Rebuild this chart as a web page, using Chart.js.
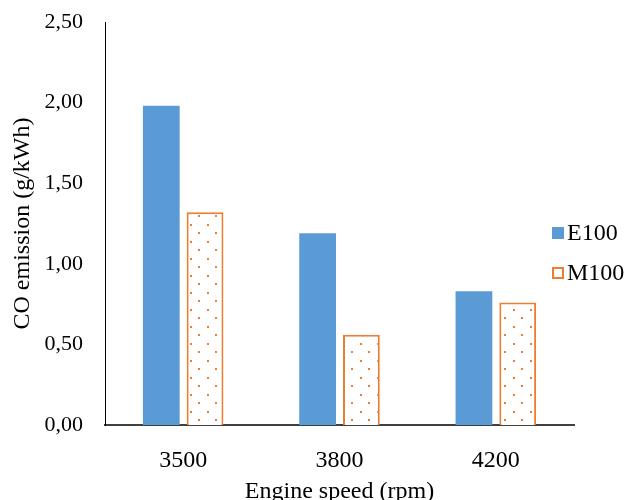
<!DOCTYPE html>
<html>
<head>
<meta charset="utf-8">
<script src="https://cdn.jsdelivr.net/npm/chart.js@4"></script>
<style>
  html, body { margin: 0; padding: 0; background: #fff; }
  #wrap { width: 628px; height: 500px; }
</style>
</head>
<body>
<div id="wrap"><canvas id="coChart"></canvas></div>
<script>
  const speeds = ["3500", "3800", "4200"];
  const e100 = [1.98, 1.19, 0.83];
  const m100 = [1.32, 0.56, 0.76];
  const yTicks = [0, 0.5, 1, 1.5, 2, 2.5];

  const FONT = "'Liberation Serif', 'Times New Roman', serif";
  const BLUE = "#5B9BD5";
  const ORANGE = "#ED7D31";

  // dotted fill for the M100 bars
  function dotPattern() {
    const c = document.createElement("canvas");
    c.width = 17;
    c.height = 17;
    const g = c.getContext("2d");
    g.fillStyle = "#fff";
    g.fillRect(0, 0, 17, 17);
    g.fillStyle = ORANGE;
    g.fillRect(3, 3, 2, 2);
    g.fillRect(11, 11, 2, 2);
    return g.createPattern(c, "repeat");
  }

  // legend drawn at the right side, over the plot area
  const sideLegend = {
    id: "sideLegend",
    afterDraw(chart) {
      const ctx = chart.ctx;
      const x = 552;
      const rows = [233, 273];
      ctx.save();
      chart.data.datasets.forEach((ds, i) => {
        const cy = rows[i];
        if (i === 0) {
          ctx.fillStyle = ds.borderColor;
          ctx.fillRect(x, cy - 6, 12, 12);
        } else {
          ctx.fillStyle = "#fff";
          ctx.fillRect(x, cy - 6, 12, 12);
          ctx.strokeStyle = ds.borderColor;
          ctx.lineWidth = 2;
          ctx.strokeRect(x + 1, cy - 5, 10, 10);
        }
        ctx.fillStyle = "#000";
        ctx.font = "24px " + FONT;
        ctx.textBaseline = "middle";
        ctx.textAlign = "left";
        ctx.fillText(ds.label, x + 15, cy + 1);
      });
      ctx.restore();
    },
  };

  new Chart(document.getElementById("coChart"), {
    type: "bar",
    data: {
      labels: speeds,
      datasets: [
        {
          label: "E100",
          data: e100,
          backgroundColor: BLUE,
          borderColor: BLUE,
          borderWidth: 0,
        },
        {
          label: "M100",
          data: m100,
          backgroundColor: dotPattern(),
          borderColor: ORANGE,
          borderWidth: 2,
        },
      ],
    },
    options: {
      responsive: true,
      maintainAspectRatio: false,
      animation: false,
      layout: { padding: { left: 0, right: 54, top: 22, bottom: 0 } },
      datasets: {
        bar: { categoryPercentage: 0.56, barPercentage: 0.84 },
      },
      plugins: {
        legend: { display: false },
        tooltip: { enabled: false },
      },
      scales: {
        x: {
          grid: { display: false },
          border: { display: true, color: "#404040", width: 2 },
          ticks: {
            color: "#000",
            padding: 13,
            font: { family: FONT, size: 24 },
          },
          title: {
            display: true,
            text: "Engine speed (rpm)",
            color: "#000",
            font: { family: FONT, size: 24 },
            padding: { top: 10, bottom: -6 },
          },
          afterFit(scale) {
            scale.height = 75;
          },
        },
        y: {
          min: 0,
          max: 2.5,
          grid: { display: false },
          border: { display: true, color: "#000", width: 1 },
          afterBuildTicks(scale) {
            scale.ticks = yTicks.map((v) => ({ value: v }));
          },
          ticks: {
            color: "#000",
            padding: 14,
            font: { family: FONT, size: 22 },
            callback: (v) => v.toFixed(2).replace(".", ","),
          },
          title: {
            display: true,
            text: "CO emission (g/kWh)",
            color: "#000",
            font: { family: FONT, size: 24 },
            padding: { top: 8, bottom: 0 },
          },
          afterFit(scale) {
            scale.width = 105;
            scale.paddingTop = 0;
          },
        },
      },
    },
    plugins: [sideLegend],
  });
</script>
</body>
</html>
